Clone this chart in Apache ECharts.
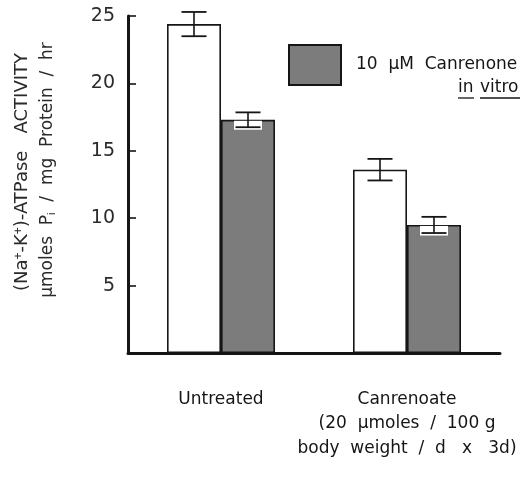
<!DOCTYPE html>
<html>
<head>
<meta charset="utf-8">
<script src="https://cdn.jsdelivr.net/npm/echarts@6/dist/echarts.min.js"></script>
<style>
html, body { margin: 0; padding: 0; background: #fff; }
#content { width: 531px; height: 479px; }
</style>
</head>
<body>
<div id="content"></div>
<script>
// data
var categories = ['Untreated', 'Canrenoate\n(20  μmoles  /  100 g\nbody  weight  /  d   x   3d)'];
var untreatedValues = [24.4, 13.6];   // open bars
var untreatedErrors = [0.9, 0.8];
var canrenoneValues = [17.3, 9.5];    // grey bars, 10 μM canrenone in vitro
var canrenoneErrors = [0.55, 0.6];
var yTicks = [0, 5, 10, 15, 20, 25];

var barW = 54;
var fontName = 'DejaVu Sans';
var ink = '#151515';

function errData(vals, errs) {
    return vals.map(function (v, i) { return [i, v, errs[i]]; });
}

function errRenderer(side, masked) {
    return function (params, api) {
        var i = api.value(0), v = api.value(1), e = api.value(2);
        var hi = api.coord([i, v + e]);
        var mid = api.coord([i, v]);
        var lo = api.coord([i, v - e]);
        var x = hi[0] + side * barW / 2;
        var cap = 12.5;
        var kids = [];
        if (masked) {
            // white patch under the lower whisker on the grey bars
            kids.push({
                type: 'rect',
                shape: { x: x - cap - 1.5, y: mid[1] + 1, width: 2 * cap + 3, height: lo[1] - mid[1] + 1.5 },
                style: { fill: '#fff' }
            });
        }
        kids.push({ type: 'line', shape: { x1: x, y1: hi[1], x2: x, y2: lo[1] }, style: { stroke: ink, lineWidth: 1.6 } });
        kids.push({ type: 'line', shape: { x1: x - cap, y1: hi[1], x2: x + cap, y2: hi[1] }, style: { stroke: ink, lineWidth: 1.8 } });
        kids.push({ type: 'line', shape: { x1: x - cap, y1: lo[1], x2: x + cap, y2: lo[1] }, style: { stroke: ink, lineWidth: 1.8 } });
        return { type: 'group', children: kids };
    };
}

var option = {
    backgroundColor: '#fff',
    animation: false,
    grid: { left: 128, right: 31, top: 16, bottom: 126 },
    legend: {
        data: ['10 μM Canrenone'],
        left: 283,
        top: 39,
        itemWidth: 52,
        itemHeight: 40,
        icon: 'rect',
        formatter: function () { return '10  μM  Canrenone'; },
        textStyle: { fontFamily: fontName, fontSize: 17, color: ink, padding: [0, 0, 0, 10] }
    },
    xAxis: {
        type: 'category',
        data: categories,
        axisLine: { lineStyle: { color: ink, width: 3 } },
        axisTick: { show: false },
        axisLabel: {
            margin: 34,
            fontFamily: fontName,
            fontSize: 17,
            lineHeight: 24.5,
            color: ink,
            interval: 0
        }
    },
    yAxis: {
        type: 'value',
        min: yTicks[0],
        max: yTicks[yTicks.length - 1],
        interval: 5,
        axisLine: { show: true, lineStyle: { color: ink, width: 3 } },
        axisTick: { show: true, inside: true, length: 8, lineStyle: { color: ink, width: 1.6 } },
        splitLine: { show: false },
        axisLabel: {
            showMinLabel: false,
            margin: 13,
            fontFamily: fontName,
            fontSize: 19,
            color: '#2a2a2a'
        }
    },
    series: [{
        name: 'Untreated',
        type: 'bar',
        data: untreatedValues,
        barWidth: barW,
        barGap: '0%',
        itemStyle: { color: '#fff', borderColor: ink, borderWidth: 1.6 }
    }, {
        name: '10 μM Canrenone',
        type: 'bar',
        data: canrenoneValues,
        barWidth: barW,
        barGap: '0%',
        itemStyle: { color: '#7c7c7c', borderColor: ink, borderWidth: 1.6 }
    }, {
        type: 'custom',
        data: errData(untreatedValues, untreatedErrors),
        encode: { x: 0, y: 1 },
        renderItem: errRenderer(-1, false),
        z: 5
    }, {
        type: 'custom',
        data: errData(canrenoneValues, canrenoneErrors),
        encode: { x: 0, y: 1 },
        renderItem: errRenderer(1, true),
        z: 5
    }],
    graphic: [{
        type: 'text',
        x: 22, y: 172,
        rotation: Math.PI / 2,
        style: {
            text: '(Na{sup|+}-K{sup|+})-ATPase   ACTIVITY',
            font: '18px "DejaVu Sans"',
            fill: '#2a2a2a',
            align: 'center',
            verticalAlign: 'middle',
            rich: { sup: { fontSize: 12, verticalAlign: 'top', padding: [0, 0, 7, 0], fill: '#2a2a2a' } }
        }
    }, {
        type: 'text',
        x: 48, y: 170,
        rotation: Math.PI / 2,
        style: {
            text: 'μmoles  P{sub|i}  /  mg  Protein  /  hr',
            font: '17px "DejaVu Sans"',
            fill: '#2a2a2a',
            align: 'center',
            verticalAlign: 'middle',
            rich: { sub: { fontSize: 11, verticalAlign: 'bottom', padding: [7, 0, 0, 0], fill: '#2a2a2a' } }
        }
    }, {
        type: 'text',
        x: 458, y: 88,
        style: { text: 'in', font: '17px "DejaVu Sans"', fill: ink, align: 'left', verticalAlign: 'middle' }
    }, {
        type: 'text',
        x: 480, y: 88,
        style: { text: 'vitro', font: '17px "DejaVu Sans"', fill: ink, align: 'left', verticalAlign: 'middle' }
    }, {
        type: 'line',
        shape: { x1: 458, y1: 98, x2: 474, y2: 98 },
        style: { stroke: ink, lineWidth: 1.3 }
    }, {
        type: 'line',
        shape: { x1: 480, y1: 98, x2: 520, y2: 98 },
        style: { stroke: ink, lineWidth: 1.3 }
    }]
};

var myChart = echarts.init(document.getElementById('content'));
myChart.setOption(option);
</script>
</body>
</html>
